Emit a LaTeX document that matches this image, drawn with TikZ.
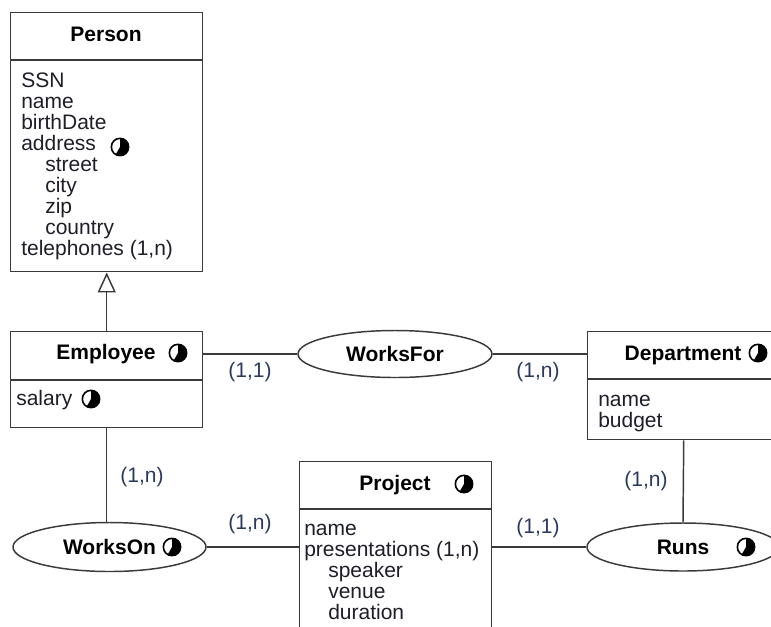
\documentclass[tikz,border=0pt]{standalone}
\usepackage{fontspec}
\setmainfont{Liberation Sans}
\usetikzlibrary{shapes.geometric,arrows.meta}
\definecolor{edge}{HTML}{3A3A3A}
\definecolor{card}{HTML}{2A3A5E}
\definecolor{ink}{HTML}{1E1E28}

\begin{document}
\begin{tikzpicture}[x=0.75pt,y=-0.75pt,
  every node/.style={font=\fontsize{15.75}{15.75}\selectfont},
  entity/.style={draw=edge, line width=1.1pt, anchor=north west, inner sep=0pt, minimum width=144pt},
  relation/.style={draw=edge, line width=1.1pt, ellipse, inner sep=0pt, font=\fontsize{15.75}{15.75}\selectfont\bfseries},
  title/.style={anchor=base, inner sep=0pt, font=\fontsize{15.75}{15.75}\selectfont\bfseries},
  attr/.style={anchor=base west, inner sep=0pt, text=ink},
  card/.style={inner sep=0pt, text=card},
  conn/.style={draw=edge, line width=1.1pt},
  divider/.style={draw=edge, line width=1.1pt},
  partial/.pic={
    \fill[black] (0,0) -- (90:6.5pt) arc[start angle=90, end angle=-120, radius=6.5pt] -- cycle;
    \draw[black, line width=1.2pt] (0,0) circle[radius=6.5pt];
  }
]
\clip (0,0) rectangle (771,626);

% ---- Person ----
\node[entity, minimum height=194.25pt] (person) at (10,12) {};
\draw[divider] (person.west |- 0,60) -- (person.east |- 0,60);
\node[title] (personT) at (106,41) {Person};
\node[attr] (p1) at (21,87) {SSN};
\node[attr] (p2) at (21,108) {name};
\node[attr] (p3) at (21,129) {birthDate};
\node[attr] (p4) at (21,150) {address};
\node[attr] (p5) at (45,171) {street};
\node[attr] (p6) at (45,192) {city};
\node[attr] (p7) at (45,213) {zip};
\node[attr] (p8) at (45,234) {country};
\node[attr] (p9) at (21,255) {telephones (1,n)};
\pic at (120,147) {partial};

% ---- Employee ----
\node[entity, minimum height=72pt] (employee) at (10,331) {};
\draw[divider] (employee.west |- 0,380) -- (employee.east |- 0,380);
\node[title] (employeeT) at (106,359) {Employee};
\pic at (178,353) {partial};
\node[attr] (e1) at (16,405) {salary};
\pic at (91,399) {partial};

% ---- Department ----
\node[entity, minimum height=81pt] (department) at (587,331) {};
\draw[divider] (department.west |- 0,379) -- (department.east |- 0,379);
\node[title] (departmentT) at (683,360) {Department};
\pic at (758,353) {partial};
\node[attr] (d1) at (598,406) {name};
\node[attr] (d2) at (598,427) {budget};

% ---- Project ----
\node[entity, minimum height=180pt] (project) at (299,461) {};
\draw[divider] (project.west |- 0,509) -- (project.east |- 0,509);
\node[title] (projectT) at (395,490) {Project};
\pic at (464,484) {partial};
\node[attr] (j1) at (304,535) {name};
\node[attr] (j2) at (304,556) {presentations (1,n)};
\node[attr] (j3) at (328,577) {speaker};
\node[attr] (j4) at (328,598) {venue};
\node[attr] (j5) at (328,619) {duration};

% ---- Relationships ----
\node[relation, minimum width=145.5pt, minimum height=35.25pt] (worksfor) at (395,354) {WorksFor};
\node[relation, minimum width=144.75pt, minimum height=36.75pt] (workson) at (109.5,547) {WorksOn};
\pic at (172,547) {partial};
\node[relation, minimum width=144pt, minimum height=36pt] (runs) at (683,547) {Runs};
\pic at (746,547) {partial};

% ---- Connectors ----
\draw[conn, -{Triangle[open, width=13.5pt, length=15pt]}] (employee.north) -- (person.south);
\draw[conn] (employee.east |- worksfor.west) -- (worksfor.west);
\draw[conn] (worksfor.east) -- (department.west |- worksfor.east);
\draw[conn] (employee.south) -- (employee.south |- workson.north);
\draw[conn] (workson.east) -- (project.west |- workson.east);
\draw[conn] (project.east |- runs.west) -- (runs.west);
\draw[conn] (department.south) -- (runs.north);

% ---- Cardinalities ----
\node[card] (c1) at (250,372) {(1,1)};
\node[card] (c2) at (538,372) {(1,n)};
\node[card] (c3) at (142,477) {(1,n)};
\node[card] (c4) at (250,524) {(1,n)};
\node[card] (c5) at (538,528) {(1,1)};
\node[card] (c6) at (646,481) {(1,n)};
\end{tikzpicture}
\end{document}
